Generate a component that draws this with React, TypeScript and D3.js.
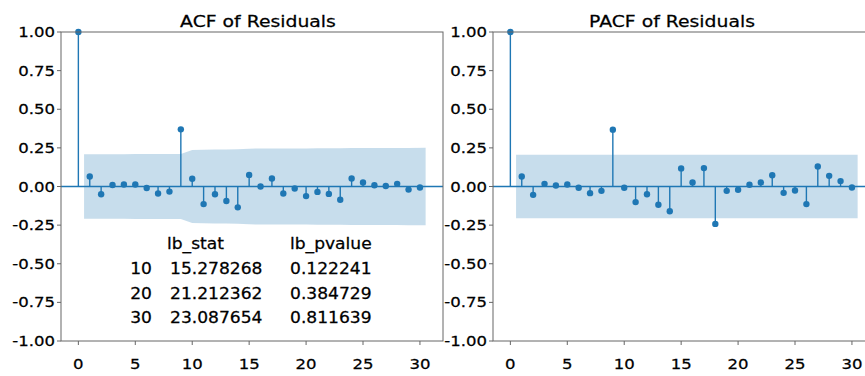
import React from 'react';
import * as d3 from 'd3';

// lag axis
const lags = [0, 1, 2, 3, 4, 5, 6, 7, 8, 9, 10, 11, 12, 13, 14, 15, 16, 17, 18, 19, 20, 21, 22, 23, 24, 25, 26, 27, 28, 29, 30];

const acfValues = [1.0, 0.065, -0.05, 0.01, 0.013, 0.013, -0.01, -0.045, -0.033, 0.37, 0.05, -0.114, -0.05, -0.094, -0.135,
  0.075, 0.0, 0.052, -0.045, -0.013, -0.062, -0.035, -0.048, -0.086, 0.052, 0.026, 0.008, 0.003, 0.017, -0.02, -0.006];

// Bartlett band half-width for lags 1..30
const acfBand = [0.208, 0.209, 0.209, 0.2095, 0.2097, 0.2099, 0.21, 0.2101, 0.2102, 0.2367, 0.2371, 0.2395, 0.2399, 0.2415, 0.2448,
  0.2458, 0.2458, 0.2463, 0.2467, 0.2467, 0.2474, 0.2476, 0.248, 0.2493, 0.2497, 0.2498, 0.2499, 0.2499, 0.25, 0.2501];

const pacfValues = [1.0, 0.065, -0.054, 0.017, 0.006, 0.013, -0.008, -0.043, -0.028, 0.368, -0.008, -0.101, -0.05, -0.118, -0.16,
  0.117, 0.026, 0.119, -0.242, -0.028, -0.021, 0.011, 0.026, 0.073, -0.041, -0.026, -0.114, 0.129, 0.069, 0.035, -0.006];

const pacfBand = [0.206, 0.206, 0.206, 0.206, 0.206, 0.206, 0.206, 0.206, 0.206, 0.206, 0.206, 0.206, 0.206, 0.206, 0.206,
  0.206, 0.206, 0.206, 0.206, 0.206, 0.206, 0.206, 0.206, 0.206, 0.206, 0.206, 0.206, 0.206, 0.206, 0.206];

const yTicks = [1.0, 0.75, 0.5, 0.25, 0.0, -0.25, -0.5, -0.75, -1.0];
const xTicks = [0, 5, 10, 15, 20, 25, 30];

// Ljung-Box table
const lbHeader = ['lb_stat', 'lb_pvalue'];
const lbIndex = ['10', '20', '30'];
const lbStat = ['15.278268', '21.212362', '23.087654'];
const lbPvalue = ['0.122241', '0.384729', '0.811639'];

const BLUE = '#1f77b4';
const SPINE = '#666';
const FONT = '"DejaVu Sans", sans-serif';
const SX = 1.14;

const top = 32;
const bottom = 341;

function Txt({ x, y, size, anchor = 'start', children }: any) {
  return (
    <text transform={`translate(${x},${y}) scale(${SX},1)`} fontSize={size} textAnchor={anchor}
      fontFamily={FONT} fill="#000" stroke="#000" strokeWidth={0.25}>{children}</text>
  );
}

function Panel({ x0, x1, title, titleX, values, band }: any) {
  const x = d3.scaleLinear().domain([-1.525, 32.025]).range([x0, x1]);
  const y = d3.scaleLinear().domain([-1, 1]).range([bottom, top]);
  const bandLags = lags.slice(1).map((l, i, a) => (i === 0 ? l - 0.5 : i === a.length - 1 ? l + 0.5 : l));
  const area = d3.area<number>()
    .x((_, i) => x(bandLags[i]))
    .y0((d) => y(-d))
    .y1((d) => y(d));
  return (
    <g>
      <path d={area(band) || ''} fill={BLUE} fillOpacity={0.25} />
      <line x1={x0} x2={x1} y1={y(0)} y2={y(0)} stroke={BLUE} strokeWidth={1.3} />
      {lags.map((l, i) => (
        <line key={'s' + l} x1={x(l)} x2={x(l)} y1={y(0)} y2={y(values[i])} stroke={BLUE} strokeWidth={1.4} />
      ))}
      {lags.map((l, i) => (
        <circle key={'c' + l} cx={x(l)} cy={y(values[i])} r={3.2} fill={BLUE} />
      ))}
      <rect x={x0} y={top} width={x1 - x0} height={bottom - top} fill="none" stroke={SPINE} strokeWidth={1} />
      {yTicks.map((t) => (
        <g key={'y' + t}>
          <line x1={x0 - 4} x2={x0} y1={y(t)} y2={y(t)} stroke={SPINE} />
          <Txt x={x0 - 6} y={y(t) + 5} size={14.5} anchor="end">{t.toFixed(2)}</Txt>
        </g>
      ))}
      {xTicks.map((t) => (
        <g key={'x' + t}>
          <line x1={x(t)} x2={x(t)} y1={bottom} y2={bottom + 4} stroke={SPINE} />
          <Txt x={x(t)} y={369} size={14.5} anchor="middle">{t}</Txt>
        </g>
      ))}
      <Txt x={titleX} y={27} size={16.5} anchor="middle">{title}</Txt>
    </g>
  );
}

export default function App() {
  return (
    <svg width={865} height={376} style={{ position: 'absolute', left: 0, top: 0, background: '#fff' }}>
      <rect width={865} height={376} fill="#fff" />
      <Panel x0={61} x1={443} title="ACF of Residuals" titleX={258} values={acfValues} band={acfBand} />
      <Panel x0={493} x1={875} title="PACF of Residuals" titleX={672} values={pacfValues} band={pacfBand} />
      <Txt x={167} y={249} size={15}>{lbHeader[0]}</Txt>
      <Txt x={290} y={249} size={15}>{lbHeader[1]}</Txt>
      {lbIndex.map((idx, i) => (
        <g key={idx}>
          <Txt x={152} y={274 + i * 24.5} size={15} anchor="end">{idx}</Txt>
          <Txt x={170} y={274 + i * 24.5} size={15}>{lbStat[i]}</Txt>
          <Txt x={290} y={274 + i * 24.5} size={15}>{lbPvalue[i]}</Txt>
        </g>
      ))}
    </svg>
  );
}
